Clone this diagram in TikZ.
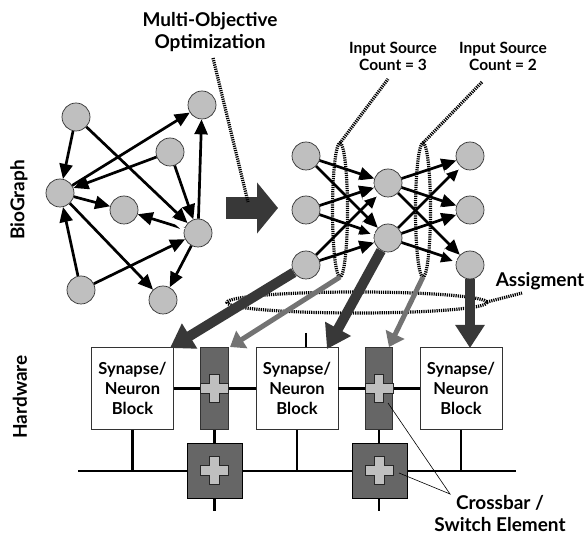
\documentclass[tikz,border=0pt]{standalone}
\usepackage{fontspec}
\setmainfont{Lato}
\usetikzlibrary{arrows.meta,calc}
\definecolor{darkarrow}{gray}{0.22}
\definecolor{switchgray}{gray}{0.40}
\definecolor{midarrow}{gray}{0.45}
\definecolor{nodegray}{gray}{0.75}
\tikzset{
  x=1pt,y=-1pt,
  gnode/.style={circle,draw=black!80,fill=nodegray,line width=0.7pt,minimum size=28pt,inner sep=0pt},
  edgearrow/.style={-{Triangle[length=15pt,width=13pt]},line width=2.7pt,black},
  bigarrow/.style={-{Triangle[length=23pt,width=28pt]},line width=10pt,darkarrow},
  grayarrow/.style={-{Triangle[length=14pt,width=20pt]},line width=5pt,midarrow},
  blockbox/.style={rectangle,draw=black!80,fill=white,line width=0.8pt,minimum width=82pt,minimum height=82pt,inner sep=0pt,align=center,font=\bfseries\fontsize{16.5}{20}\selectfont},
  barbox/.style={rectangle,draw=black!80,fill=switchgray,line width=0.8pt,minimum width=27.5pt,minimum height=82pt,inner sep=0pt},
  squarebox/.style={rectangle,draw=black,fill=switchgray,line width=0.8pt,minimum size=55pt,inner sep=0pt},
  wire/.style={line width=2.2pt,black},
  dotline/.style={line width=3.2pt,black,dash pattern=on 1.2pt off 1pt},
  striplbl/.style={line width=3.5pt,white},
  label/.style={font=\bfseries\fontsize{19}{22}\selectfont,align=center,inner sep=0pt},
  smalllabel/.style={font=\bfseries\fontsize{15.5}{17.5}\selectfont,align=center,inner sep=0pt},
  thinline/.style={line width=0.6pt,black},
  plusmark/.pic={\draw[black!85,fill=nodegray,line width=0.7pt]
    (-14,-4.7)--(-4.7,-4.7)--(-4.7,-14)--(4.7,-14)--(4.7,-4.7)--(14,-4.7)--(14,4.7)--(4.7,4.7)--(4.7,14)--(-4.7,14)--(-4.7,4.7)--(-14,4.7)--cycle;}
}
\begin{document}
\begin{tikzpicture}
\useasboundingbox (0,0) rectangle (587,537);
% left graph
\node[gnode] (a) at (76,117) {};
\node[gnode] (b) at (202,105) {};
\node[gnode] (c) at (170,152) {};
\node[gnode] (d) at (60,193) {};
\node[gnode] (e) at (124,210) {};
\node[gnode] (f) at (198,233) {};
\node[gnode] (g) at (81,290) {};
\node[gnode] (h) at (163,300) {};
\foreach \s/\t in {a/d,a/f,c/d,c/f,d/b,d/e,d/h,f/e,f/b,f/h,g/d,g/f}
  \draw[edgearrow] (\s) -- (\t);
% big arrow
\coordinate (bigs) at (226,208);
\coordinate (bigt) at (278,208);
\draw[-{Triangle[length=21pt,width=50pt]},line width=22pt,darkarrow] (bigs) -- (bigt);
% right graph
\node[gnode] (n1) at (306,156) {};
\node[gnode] (n2) at (306,210) {};
\node[gnode] (n3) at (306,265) {};
\node[gnode] (m1) at (388,183) {};
\node[gnode] (m2) at (388,238) {};
\node[gnode] (o1) at (470,156) {};
\node[gnode] (o2) at (470,210) {};
\node[gnode] (o3) at (470,265) {};
\foreach \s/\t in {n1/m1,n1/m2,n2/m1,n2/m2,n3/m1,n3/m2,m1/o1,m1/o2,m1/o3,m2/o1,m2/o2,m2/o3}
  \draw[edgearrow] (\s) -- (\t);
% white strips along the arrow heads
\foreach \s/\t in {n1/m1,n1/m2,n2/m1,n2/m2,m1/o1,m1/o2,m1/o3,a/f}
  \draw[striplbl] ($($(\t)!12.5pt!(\s)$)!7.5pt!90:(\s)$) -- ($($(\t)!29pt!(\s)$)!7.5pt!90:(\s)$);
% source ellipses
\draw[dotline] (340,210) ellipse [x radius=7.5,y radius=67];
\draw[dotline] (423,210) ellipse [x radius=7.5,y radius=67];
\coordinate (e1top) at (340,143);
\coordinate (e2top) at (423,143);
\coordinate (e1bot) at (340,277);
\coordinate (e2bot) at (423,277);
\coordinate (l1end) at (388,79);
\coordinate (l2end) at (482,82);
\draw[dotline] (e1top) -- (l1end);
\draw[dotline] (e2top) -- (l2end);
% blocks
\node[blockbox] (b1) at (132.5,388.5) {Synapse/\\Neuron\\Block};
\node[blockbox] (b2) at (297,388.5) {Synapse/\\Neuron\\Block};
\node[blockbox] (b3) at (461,388.5) {Synapse/\\Neuron\\Block};
\coordinate (busl) at (78,471);
\coordinate (busr) at (516,471);
\coordinate (st1) at (214.5,511);
\coordinate (st2) at (379,511);
\coordinate (st3) at (306,333);
\coordinate (st4) at (306,347);
\coordinate (j1) at (132.5,471);
\coordinate (j2) at (297,471);
\coordinate (j3) at (461,471);
\draw[wire] (busl) -- (busr);
\draw[wire] (b1.south) -- (j1);
\draw[wire] (b2.south) -- (j2);
\draw[wire] (b3.south) -- (j3);
\draw[wire] (st3) -- (st4);
\draw[wire] (b1.east) -- (b2.west);
\draw[wire] (b2.east) -- (b3.west);
\draw[wire] (214.5,430) -- (st1);
\draw[wire] (379,430) -- (st2);
\node[barbox] (v1) at (214.5,388.5) {};
\node[barbox] (v2) at (379,388.5) {};
\node[squarebox] (s1) at (214.5,470.5) {};
\node[squarebox] (s2) at (379.5,470.5) {};
\pic at (v1) {plusmark};
\pic at (v2) {plusmark};
\pic at (s1) {plusmark};
\pic at (s2) {plusmark};
% assignment ellipse
\draw[dotline] (357,302.5) ellipse [x radius=130,y radius=10.5];
\coordinate (asend) at (522,293);
\coordinate (asst) at (487,302);
\draw[dotline] (asst) -- (asend);
% mapping arrows
\coordinate (t1) at (170,348);
\coordinate (t2) at (327,349);
\coordinate (t3) at (470,348);
\coordinate (t4) at (230,347);
\coordinate (t5) at (389,347);
\draw[bigarrow] (n3) -- (t1);
\draw[bigarrow] (m2) -- (t2);
\draw[bigarrow] (o3.south) -- (t3);
\draw[grayarrow] (e1bot) -- (t4);
\draw[grayarrow] (e2bot) -- (t5);
% callouts
\coordinate (cj) at (450,494);
\coordinate (c1) at (388,403);
\coordinate (c2) at (399,473);
\draw[thinline] (c1) -- (cj) -- (c2);
% labels
\node[label] (tmo) at (210,32) {Multi-Objective\\Optimization};
\coordinate (mos) at (213,58);
\coordinate (moe) at (248,202);
\draw[dotline] (mos) -- (moe);
\node[smalllabel] (tis1) at (393,56.5) {Input Source\\Count = 3};
\node[smalllabel] (tis2) at (503,56.5) {Input Source\\Count = 2};
\node[label,rotate=90] (tbio) at (19,200) {BioGraph};
\node[label,rotate=90] (thw) at (20,397) {Hardware};
\node[label] (tas) at (540,281) {Assigment};
\node[label] (tcb) at (500,514) {Crossbar /\\Switch Element};
\end{tikzpicture}
\end{document}
